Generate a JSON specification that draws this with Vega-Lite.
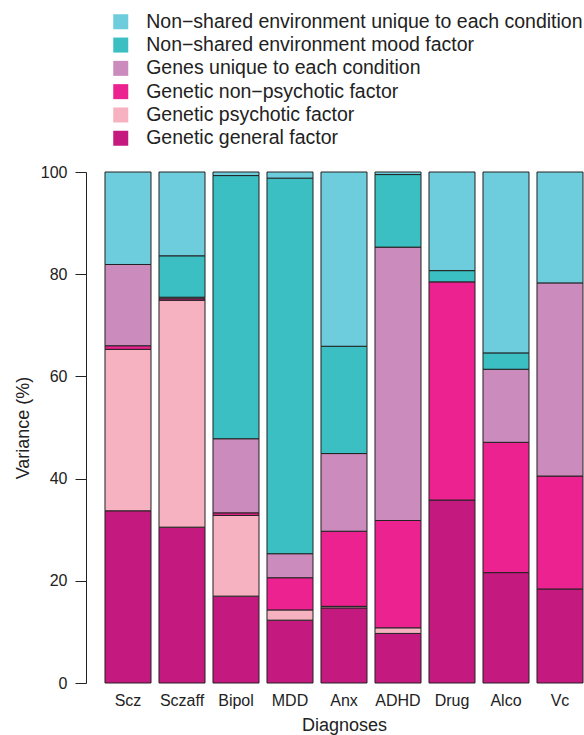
{
  "$schema": "https://vega.github.io/schema/vega-lite/v6.json",
  "autosize": {"type": "none"},
  "padding": {"left": 101, "top": 172, "right": 0, "bottom": 52},
  "width": 486,
  "height": 511,
  "background": "white",
  "config": {
    "view": {"stroke": null},
    "font": "Liberation Sans",
    "axis": {"labelFont": "Liberation Sans", "titleFont": "Liberation Sans", "labelColor": "#222222", "titleColor": "#222222", "titleFontWeight": "normal", "labelFontSize": 16, "titleFontSize": 18, "grid": false},
    "legend": {"labelFont": "Liberation Sans", "labelColor": "#222222"}
  },
  "datasets": {
    "components": [
      {"component": "Genetic general factor", "layer": 1},
      {"component": "Genetic psychotic factor", "layer": 2},
      {"component": "Genetic non−psychotic factor", "layer": 3},
      {"component": "Genes unique to each condition", "layer": 4},
      {"component": "Non−shared environment mood factor", "layer": 5},
      {"component": "Non−shared environment unique to each condition", "layer": 6}
    ],
    "variance": [
      {"diagnosis": "Scz", "component": "Genetic general factor", "value": 33.7},
      {"diagnosis": "Scz", "component": "Genetic psychotic factor", "value": 31.6},
      {"diagnosis": "Scz", "component": "Genetic non−psychotic factor", "value": 0.7},
      {"diagnosis": "Scz", "component": "Genes unique to each condition", "value": 15.9},
      {"diagnosis": "Scz", "component": "Non−shared environment unique to each condition", "value": 18.1},
      {"diagnosis": "Sczaff", "component": "Genetic general factor", "value": 30.5},
      {"diagnosis": "Sczaff", "component": "Genetic psychotic factor", "value": 44.4},
      {"diagnosis": "Sczaff", "component": "Genetic non−psychotic factor", "value": 0.3},
      {"diagnosis": "Sczaff", "component": "Genes unique to each condition", "value": 0.3},
      {"diagnosis": "Sczaff", "component": "Non−shared environment mood factor", "value": 8.1},
      {"diagnosis": "Sczaff", "component": "Non−shared environment unique to each condition", "value": 16.4},
      {"diagnosis": "Bipol", "component": "Genetic general factor", "value": 17.0},
      {"diagnosis": "Bipol", "component": "Genetic psychotic factor", "value": 15.8},
      {"diagnosis": "Bipol", "component": "Genetic non−psychotic factor", "value": 0.5},
      {"diagnosis": "Bipol", "component": "Genes unique to each condition", "value": 14.5},
      {"diagnosis": "Bipol", "component": "Non−shared environment mood factor", "value": 51.5},
      {"diagnosis": "Bipol", "component": "Non−shared environment unique to each condition", "value": 0.7},
      {"diagnosis": "MDD", "component": "Genetic general factor", "value": 12.3},
      {"diagnosis": "MDD", "component": "Genetic psychotic factor", "value": 2.0},
      {"diagnosis": "MDD", "component": "Genetic non−psychotic factor", "value": 6.3},
      {"diagnosis": "MDD", "component": "Genes unique to each condition", "value": 4.7},
      {"diagnosis": "MDD", "component": "Non−shared environment mood factor", "value": 73.5},
      {"diagnosis": "MDD", "component": "Non−shared environment unique to each condition", "value": 1.2},
      {"diagnosis": "Anx", "component": "Genetic general factor", "value": 14.7},
      {"diagnosis": "Anx", "component": "Genetic psychotic factor", "value": 0.3},
      {"diagnosis": "Anx", "component": "Genetic non−psychotic factor", "value": 14.7},
      {"diagnosis": "Anx", "component": "Genes unique to each condition", "value": 15.2},
      {"diagnosis": "Anx", "component": "Non−shared environment mood factor", "value": 21.0},
      {"diagnosis": "Anx", "component": "Non−shared environment unique to each condition", "value": 34.1},
      {"diagnosis": "ADHD", "component": "Genetic general factor", "value": 9.7},
      {"diagnosis": "ADHD", "component": "Genetic psychotic factor", "value": 1.1},
      {"diagnosis": "ADHD", "component": "Genetic non−psychotic factor", "value": 21.0},
      {"diagnosis": "ADHD", "component": "Genes unique to each condition", "value": 53.5},
      {"diagnosis": "ADHD", "component": "Non−shared environment mood factor", "value": 14.2},
      {"diagnosis": "ADHD", "component": "Non−shared environment unique to each condition", "value": 0.5},
      {"diagnosis": "Drug", "component": "Genetic general factor", "value": 35.8},
      {"diagnosis": "Drug", "component": "Genetic non−psychotic factor", "value": 42.7},
      {"diagnosis": "Drug", "component": "Non−shared environment mood factor", "value": 2.2},
      {"diagnosis": "Drug", "component": "Non−shared environment unique to each condition", "value": 19.3},
      {"diagnosis": "Alco", "component": "Genetic general factor", "value": 21.6},
      {"diagnosis": "Alco", "component": "Genetic non−psychotic factor", "value": 25.5},
      {"diagnosis": "Alco", "component": "Genes unique to each condition", "value": 14.3},
      {"diagnosis": "Alco", "component": "Non−shared environment mood factor", "value": 3.2},
      {"diagnosis": "Alco", "component": "Non−shared environment unique to each condition", "value": 35.4},
      {"diagnosis": "Vc", "component": "Genetic general factor", "value": 18.4},
      {"diagnosis": "Vc", "component": "Genetic non−psychotic factor", "value": 22.1},
      {"diagnosis": "Vc", "component": "Genes unique to each condition", "value": 37.8},
      {"diagnosis": "Vc", "component": "Non−shared environment unique to each condition", "value": 21.7}
    ]
  },
  "data": {"name": "variance"},
  "transform": [
    {"lookup": "component", "from": {"data": {"name": "components"}, "key": "component", "fields": ["layer"]}}
  ],
  "mark": {"type": "bar", "stroke": "#222222", "strokeWidth": 1},
  "encoding": {
    "x": {
      "field": "diagnosis",
      "type": "nominal",
      "sort": ["Scz", "Sczaff", "Bipol", "MDD", "Anx", "ADHD", "Drug", "Alco", "Vc"],
      "scale": {"paddingInner": 0.148, "paddingOuter": 0.074},
      "axis": {"title": "Diagnoses", "labelAngle": 0, "domain": false, "ticks": false, "labelPadding": 9, "titlePadding": 8}
    },
    "y": {
      "field": "value",
      "type": "quantitative",
      "stack": "zero",
      "scale": {"domain": [0, 100], "nice": false},
      "axis": {"title": "Variance (%)", "values": [0, 20, 40, 60, 80, 100], "offset": 15, "tickSize": 11, "labelPadding": 8, "titlePadding": 8, "domainColor": "#222222", "tickColor": "#222222"}
    },
    "order": {"field": "layer", "type": "quantitative", "sort": "ascending"},
    "color": {
      "field": "component",
      "type": "nominal",
      "scale": {
        "domain": ["Genetic general factor", "Genetic psychotic factor", "Genetic non−psychotic factor", "Genes unique to each condition", "Non−shared environment mood factor", "Non−shared environment unique to each condition"],
        "range": ["#C4197F", "#F6B2C0", "#EC2290", "#CC8BBD", "#3BBFC2", "#6ECDDC"]
      },
      "legend": {
        "title": null,
        "orient": "none",
        "legendX": 10,
        "legendY": -160,
        "values": ["Non−shared environment unique to each condition", "Non−shared environment mood factor", "Genes unique to each condition", "Genetic non−psychotic factor", "Genetic psychotic factor", "Genetic general factor"],
        "symbolType": "square",
        "symbolSize": 225,
        "symbolStrokeWidth": 0,
        "labelFontSize": 19.5,
        "labelOffset": 15.7,
        "rowPadding": 2.3,
        "labelLimit": 600
      }
    }
  }
}
